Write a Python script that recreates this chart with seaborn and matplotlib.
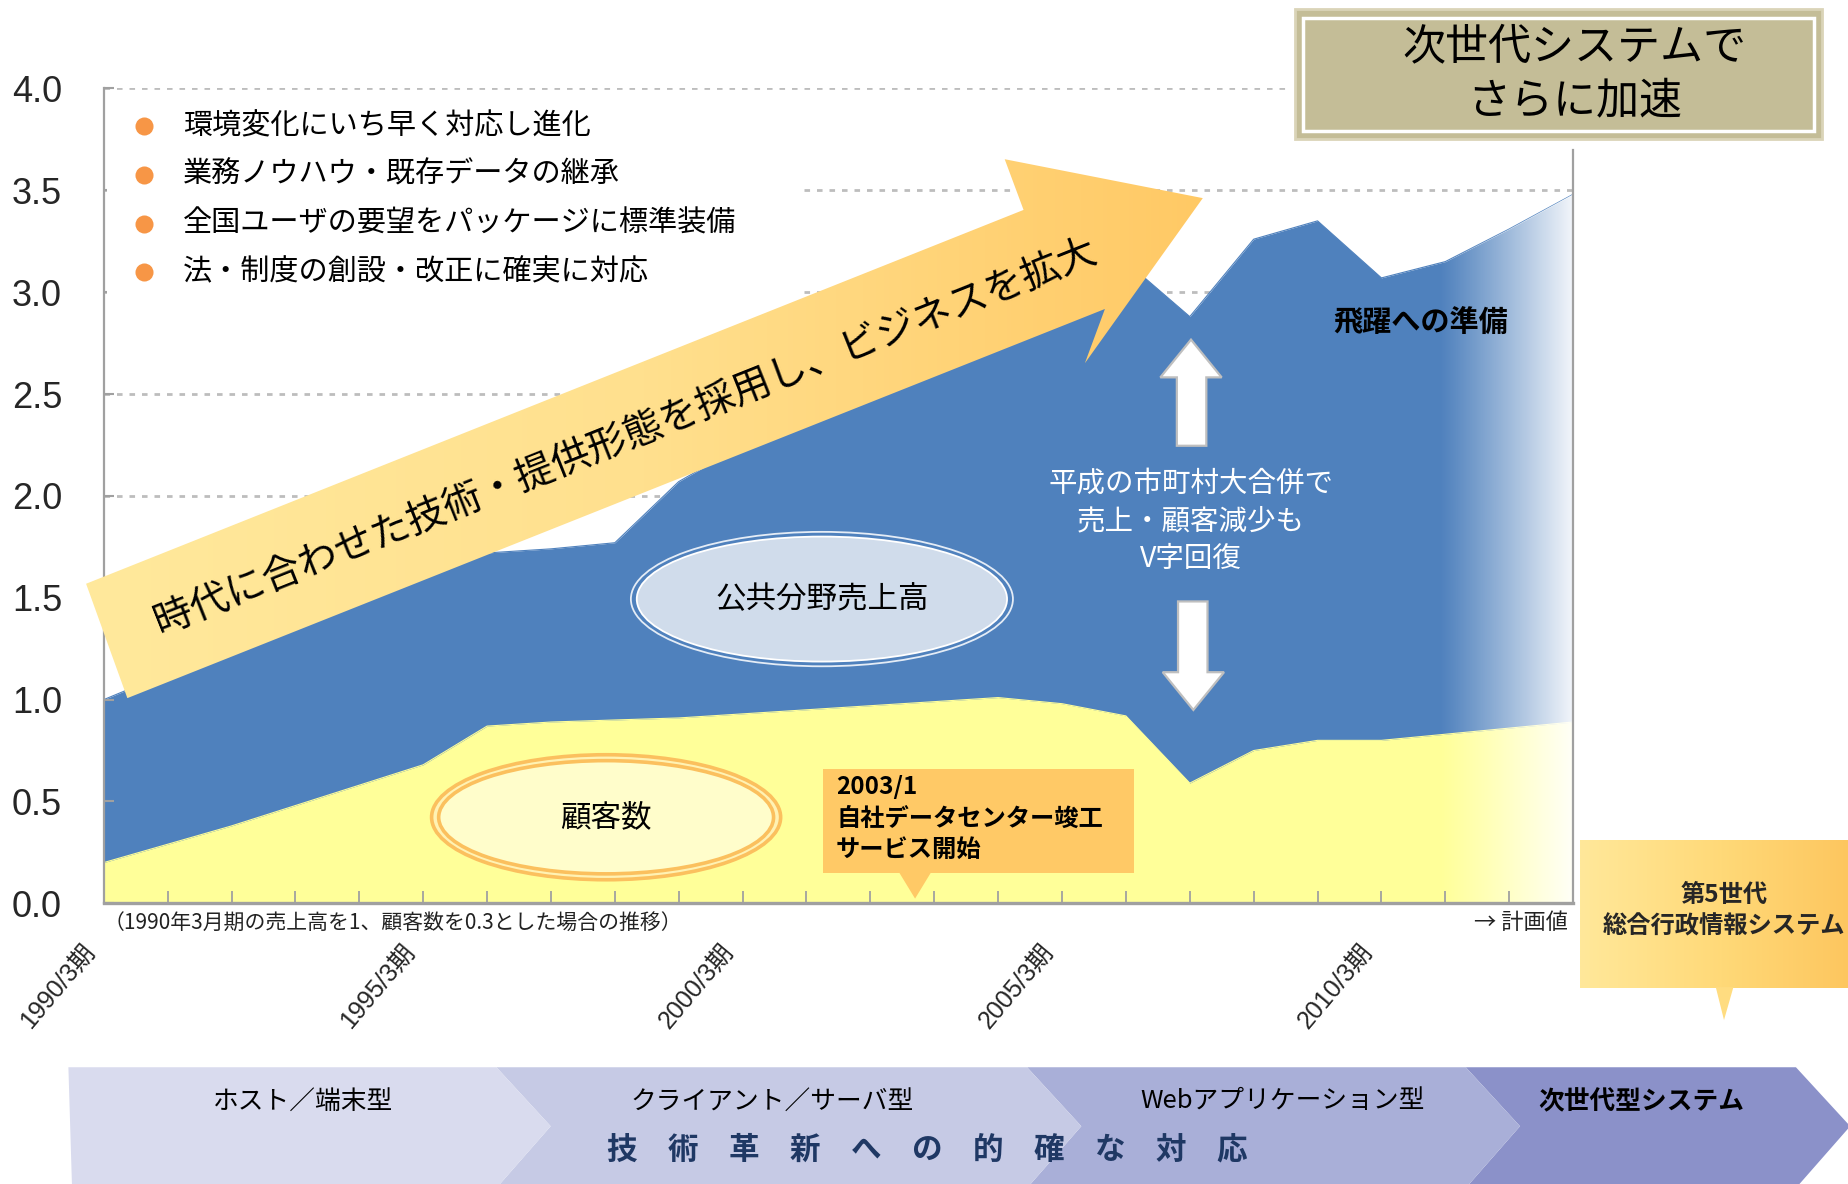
import numpy as np
import pandas as pd
import seaborn as sns
import matplotlib.pyplot as plt
from matplotlib import font_manager
from matplotlib.patches import Polygon, Rectangle, Ellipse
from matplotlib.colors import LinearSegmentedColormap
from matplotlib.transforms import ScaledTranslation

# data (1990/3 = 1.0 for sales)
years = list(range(1990, 2014))
sales = [1.00, 1.13, 1.25, 1.37, 1.49, 1.60, 1.72, 1.74, 1.77, 2.07, 2.25, 2.40,
         2.55, 2.70, 2.85, 3.00, 3.15, 2.88, 3.26, 3.35, 3.07, 3.15, 3.31, 3.48]
customers = [0.20, 0.29, 0.38, 0.48, 0.58, 0.68, 0.87, 0.89, 0.90, 0.91, 0.93, 0.95,
             0.97, 0.99, 1.01, 0.98, 0.92, 0.59, 0.75, 0.80, 0.80, 0.83, 0.86, 0.89]
year_labels = {1990: '1990/3期', 1995: '1995/3期', 2000: '2000/3期',
               2005: '2005/3期', 2010: '2010/3期'}
y_ticks = [0.0, 0.5, 1.0, 1.5, 2.0, 2.5, 3.0, 3.5, 4.0]
grid_levels = [2.0, 2.5, 3.0, 3.5, 4.0]
plan_from = 2010.9

bullets = ['環境変化にいち早く対応し進化', '業務ノウハウ・既存データの継承',
           '全国ユーザの要望をパッケージに標準装備', '法・制度の創設・改正に確実に対応']
phases = ['ホスト／端末型', 'クライアント／サーバ型', 'Webアプリケーション型', '次世代型システム']

BLUE = '#4F81BD'
YELLOW = '#FFFF99'
ORANGE_DOT = '#F79646'

sns.set_theme(style='white')
narrow = 'Liberation Sans Narrow'
if not any(f.name == narrow for f in font_manager.fontManager.ttflist):
    narrow = 'Liberation Sans'
plt.rcParams['font.family'] = ['Noto Sans CJK JP', 'DejaVu Sans']

W, H = 1568, 1004  # layout frame (scaled to figure)
fig = plt.figure(figsize=(18.49, 11.84), dpi=100)
fig.patch.set_facecolor('white')

ax = fig.add_axes([88 / W, 1 - 766 / H, (1334 - 88) / W, (766 - 75) / H])
df = pd.DataFrame({'year': years, 'sales': sales, 'customers': customers})

blue_area = ax.fill_between(df['year'], 0, df['sales'], color=BLUE, lw=0, zorder=1)
sns.lineplot(data=df, x='year', y='sales', color=BLUE, lw=0.8, ax=ax, zorder=1)
ax.fill_between(df['year'], 0, df['customers'], color=YELLOW, lw=0, zorder=2)
sns.lineplot(data=df, x='year', y='customers', color=YELLOW, lw=0.8, ax=ax, zorder=2)

# fade out the plan period
n = 300
t = np.linspace(0, 1, n)
rgba = np.ones((2, n, 4))
rgba[..., 3] = 0.94 * t ** 1.1
fade = ax.imshow(rgba, extent=[plan_from, 2013, 0, 4], aspect='auto',
                 origin='lower', zorder=2.2, interpolation='bilinear')
fade.set_clip_path(blue_area.get_paths()[0], ax.transData)

# dotted grid
for lv in grid_levels:
    ax.hlines(lv, 1990, 2008.5 if lv == 4.0 else 2013, colors='#BDBDBD',
              lw=2, linestyles=(0, (2, 2.5)), zorder=0.5)

ax.set_xlim(1990, 2013)
ax.set_ylim(0, 4)
ax.set_xlabel('')
ax.set_ylabel('')
ax.set_axisbelow(False)
ax.spines['top'].set_visible(False)
for s in ['left', 'bottom', 'right']:
    ax.spines[s].set_color('#A0A0A0')
    ax.spines[s].set_linewidth(1.6)
ax.spines['bottom'].set_linewidth(2.4)
ax.spines['right'].set_bounds(0, 3.7)

ax.set_yticks(y_ticks)
ax.set_yticklabels([f'{v:.1f}' for v in y_ticks])
ax.set_xticks(years)
ax.set_xticklabels([year_labels.get(y, '') for y in years])
ax.tick_params(axis='y', direction='in', length=7, width=1.5, color='#A0A0A0',
               labelsize=26, pad=30, left=True)
ax.tick_params(axis='x', direction='in', length=9, width=1.3, color='#A0A0A0',
               labelsize=18, pad=26, bottom=True)
for lb in ax.get_yticklabels():
    lb.set_fontfamily([narrow, 'DejaVu Sans'])
off = ScaledTranslation(-16 / 72, 0, fig.dpi_scale_trans)
for lb in ax.get_xticklabels():
    lb.set_fontfamily([narrow, 'Noto Sans CJK JP'])
    lb.set_rotation(50)
    lb.set_ha('right')
    lb.set_va('top')
    lb.set_rotation_mode('anchor')
    lb.set_transform(lb.get_transform() + off)

# overlay for annotations, in layout-frame units
ov = fig.add_axes([0, 0, 1, 1], zorder=5)
ov.set_xlim(0, W)
ov.set_ylim(H, 0)
ov.axis('off')
ov.patch.set_alpha(0)

# white panel behind the bullet list
ov.add_patch(Rectangle((91, 84), 590, 171, facecolor='white', edgecolor='none', zorder=1))
for i, txt in enumerate(bullets):
    yy = 107 + i * 41.3
    ov.plot(122, yy, 'o', ms=13, color=ORANGE_DOT, mec='none', zorder=2)
    ov.text(155, yy, txt, fontsize=21, va='center', ha='left', color='black', zorder=2)

# big arrow with gradient
arrow_pts = [(73, 495), (868, 178), (852, 135), (1020, 168), (920, 308), (937, 262), (108, 592)]
arrow = Polygon(arrow_pts, closed=True, facecolor='none', edgecolor='none', zorder=3)
ov.add_patch(arrow)
acmap = LinearSegmentedColormap.from_list('arr', ['#FFE99C', '#FFE08E', '#FFC965'])
grad = np.linspace(0, 1, 256).reshape(1, -1)
aim = ov.imshow(grad, cmap=acmap, extent=[73, 1020, 592, 135], aspect='auto', zorder=3)
aim.set_clip_path(arrow)
ov.text(530, 370, '時代に合わせた技術・提供形態を採用し、ビジネスを拡大', fontsize=28,
        rotation=21.7, rotation_mode='anchor', ha='center', va='center', color='black', zorder=4)

# ellipses
ov.add_patch(Ellipse((697, 508), 324, 114, facecolor='none', edgecolor='#E4ECF6', lw=1.3, zorder=3))
ov.add_patch(Ellipse((697, 508), 314, 106, facecolor='#D0DCEB', edgecolor='white', lw=1.3, zorder=3))
ov.text(697, 508, '公共分野売上高', fontsize=22, ha='center', va='center', color='black', zorder=4)
ov.add_patch(Ellipse((514, 693), 296, 106, facecolor='#FFF2B3', edgecolor='#FBC05E', lw=2.6, zorder=3))
ov.add_patch(Ellipse((514, 693), 284, 96, facecolor='#FFFDCB', edgecolor='#FBC05E', lw=2.6, zorder=3))
ov.text(514, 693, '顧客数', fontsize=22, ha='center', va='center', color='black', zorder=4)

# V-shape recovery arrows and note
up = [(1010, 288), (1036, 320), (1023, 320), (1023, 378), (998, 378), (998, 320), (984, 320)]
down = [(999, 510), (1024, 510), (1024, 570), (1038, 570), (1012, 602), (986, 570), (999, 570)]
for pts in (up, down):
    ov.add_patch(Polygon(pts, closed=True, facecolor='white', edgecolor='#BFBFBF', lw=1.6, zorder=3))
ov.text(1010, 442, '平成の市町村大合併で\n売上・顧客減少も\nV字回復', fontsize=20.5, color='white',
        ha='center', va='center', linespacing=1.35, zorder=4)
ov.text(1205, 273, '飛躍への準備', fontsize=21, fontweight='bold', color='black',
        ha='center', va='center', zorder=4)

# 2003/1 callout
ov.add_patch(Rectangle((698, 652), 264, 88, facecolor='#FFC966', edgecolor='none', zorder=3))
ov.add_patch(Polygon([(762, 739), (790, 739), (776, 762)], closed=True, facecolor='#FFC966',
                     edgecolor='none', zorder=3))
for i, txt in enumerate(['2003/1', '自社データセンター竣工', 'サービス開始']):
    ov.text(709, 667 + i * 27, txt, fontsize=17.5, fontweight='bold', ha='left', va='center',
            color='black', zorder=4)

# top-right box
ov.add_patch(Rectangle((1098, 8), 447, 110, facecolor='#C4BD97', edgecolor='#DAD4B8', lw=2, zorder=3))
ov.add_patch(Rectangle((1105, 15), 433, 96, facecolor='none', edgecolor='white', lw=2.5, zorder=3))
ov.text(1335, 40, '次世代システムで', fontsize=31, ha='center', va='center', color='black', zorder=4)
ov.text(1335, 86, 'さらに加速', fontsize=31, ha='center', va='center', color='black', zorder=4)

# notes under the axis
ov.text(88, 783, '（1990年3月期の売上高を1、顧客数を0.3とした場合の推移）', fontsize=15,
        ha='left', va='center', color='#222222', zorder=4)
ov.text(1330, 782, '→ 計画値', fontsize=16, ha='right', va='center', color='#222222', zorder=4)

# 5th generation callout with gradient
box5 = Rectangle((1340, 712), 240, 126, facecolor='none', edgecolor='none', zorder=3)
ov.add_patch(box5)
bcmap = LinearSegmentedColormap.from_list('box5', ['#FFE89A', '#FFD978', '#FDC45C'])
bim = ov.imshow(grad, cmap=bcmap, extent=[1340, 1580, 838, 712], aspect='auto', zorder=3)
bim.set_clip_path(box5)
ov.add_patch(Polygon([(1455, 837), (1470, 837), (1462, 865)], closed=True,
                     facecolor='#FFDC80', edgecolor='none', zorder=3))
ov.text(1462, 759, '第5世代', fontsize=17.5, fontweight='bold', ha='center', va='center', zorder=4)
ov.text(1462, 786, '総合行政情報システム', fontsize=17.5, fontweight='bold', ha='center',
        va='center', zorder=4)

# bottom band of technology phases
band_cols = ['#D9DBEE', '#C6CAE5', '#A9AFD8', '#8B91C9']
edges = [58, 421, 871, 1243, 1523]
for i, col in enumerate(band_cols):
    x0, x1 = edges[i], edges[i + 1]
    pts = [(x0, 905), (x1, 905), (x1 + 46, 955), (x1 + 3, 1004), (x0 + 3, 1004)]
    if i > 0:
        pts.append((x0 + 46, 955))
    ov.add_patch(Polygon(pts, closed=True, facecolor=col, edgecolor='none', zorder=2 + 0.01 * (4 - i)))
for i, (txt, cx) in enumerate(zip(phases, [257, 655, 1088, 1392])):
    ov.text(cx, 934, txt, fontsize=18.5, ha='center', va='center', color='black',
            fontweight='bold' if i == 3 else 'normal', zorder=4)
ov.text(786, 975, '技　術　革　新　へ　の　的　確　な　対　応', fontsize=22, fontweight='bold',
        ha='center', va='center', color='#1F3864', zorder=4)

fig.savefig('out.png', dpi=100)
